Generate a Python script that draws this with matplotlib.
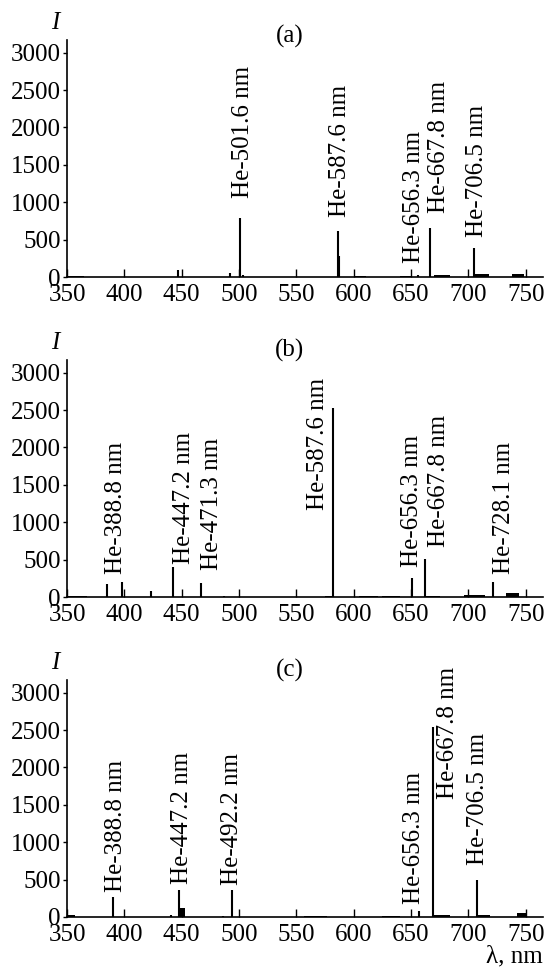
import matplotlib.pyplot as plt

plt.rcParams['font.family'] = ['Liberation Serif', 'DejaVu Serif']
plt.rcParams['mathtext.fontset'] = 'stix'

# ---- panel (a) ----
a_lines = [447.0, 492.0, 500.8, 503.0, 586.6, 587.3, 655.8, 666.5, 705.1]
a_heights = [100, 50, 790, 30, 611, 280, 30, 656, 388]
a_band_x = [351, 600, 640, 670, 705, 738]
a_band_w = [14, 11, 10, 14, 13, 10]
a_band_h = [20, 20, 15, 25, 40, 45]
a_labels = ['He-501.6 nm', 'He-587.6 nm', 'He-656.3 nm', 'He-667.8 nm', 'He-706.5 nm']
a_label_x = [503.2, 587.7, 652.4, 674.7, 707.4]
a_label_y = [1058, 808, 183, 857, 535]

# ---- panel (b) ----
b_lines = [384.6, 398.2, 423.0, 442.7, 466.6, 487.0, 581.6, 650.5, 662.1, 721.7]
b_heights = [180, 205, 80, 400, 190, 20, 2530, 260, 515, 200]
b_band_x = [351, 575, 605, 625, 663, 696, 733]
b_band_w = [16, 6, 16, 15, 12, 18, 11]
b_band_h = [15, 20, 15, 20, 20, 25, 60]
b_labels = ['He-388.8 nm', 'He-447.2 nm', 'He-471.3 nm', 'He-587.6 nm',
            'He-656.3 nm', 'He-667.8 nm', 'He-728.1 nm']
b_label_x = [392.3, 451.8, 476.3, 568.8, 651.2, 674.7, 731.2]
b_label_y = [312, 446, 357, 1160, 402, 670, 312]

# ---- panel (c) ----
c_lines = [389.8, 440.7, 447.9, 486.0, 493.8, 656.9, 668.8, 707.2]
c_heights = [268, 30, 356, 15, 356, 75, 2540, 495]
c_band_x = [350, 448.5, 557, 625, 669, 707, 742]
c_band_w = [7, 4.5, 20, 15, 15, 12, 9]
c_band_h = [20, 120, 10, 15, 20, 30, 50]
c_labels = ['He-388.8 nm', 'He-447.2 nm', 'He-492.2 nm', 'He-656.3 nm',
            'He-667.8 nm', 'He-706.5 nm']
c_label_x = [392.3, 450.3, 493.7, 652.4, 682.3, 708.3]
c_label_y = [335, 446, 424, 178, 1580, 692]

panels = [
    ('(a)', a_lines, a_heights, a_band_x, a_band_w, a_band_h, a_labels, a_label_x, a_label_y),
    ('(b)', b_lines, b_heights, b_band_x, b_band_w, b_band_h, b_labels, b_label_x, b_label_y),
    ('(c)', c_lines, c_heights, c_band_x, c_band_w, c_band_h, c_labels, c_label_x, c_label_y),
]

fig = plt.figure(figsize=(5.48, 9.73), dpi=100)
bottoms = [0.7153, 0.3864, 0.0576]
title_y = [1.015, 1.04, 1.04]

for i, (tag, lx, lh, bx, bw, bh, labs, labx, laby) in enumerate(panels):
    ax = fig.add_axes([0.1223, bottoms[i], 0.8686, 0.2436])
    ax.vlines(lx, 0, lh, color='black', lw=1.5)
    ax.bar(bx, bh, width=bw, align='edge', color='black', lw=0)
    for t, x, y in zip(labs, labx, laby):
        ax.text(x, y, t, rotation=90, ha='center', va='bottom', fontsize=18)
    ax.set_xlim(350, 765)
    ax.set_ylim(0, 3170)
    ax.set_xticks(range(350, 751, 50))
    ax.set_yticks(range(0, 3001, 500))
    ax.tick_params(axis='x', direction='in', length=6, width=1, labelsize=18, pad=5)
    ax.tick_params(axis='y', direction='out', length=3, width=1, labelsize=18, pad=1.5)
    for s in ['top', 'right']:
        ax.spines[s].set_visible(False)
    for s in ['left', 'bottom']:
        ax.spines[s].set_linewidth(1.2)
    ax.text(0.468, title_y[i], tag, transform=ax.transAxes, ha='center', va='center', fontsize=18)
    ax.text(-0.025, 1.07, 'I', transform=ax.transAxes, ha='center', va='center',
            fontsize=18, style='italic')
    if i == 2:
        ax.text(1.0, -0.165, 'λ, nm', transform=ax.transAxes, ha='right', va='center', fontsize=18)

fig.savefig('out.png', dpi=100)
